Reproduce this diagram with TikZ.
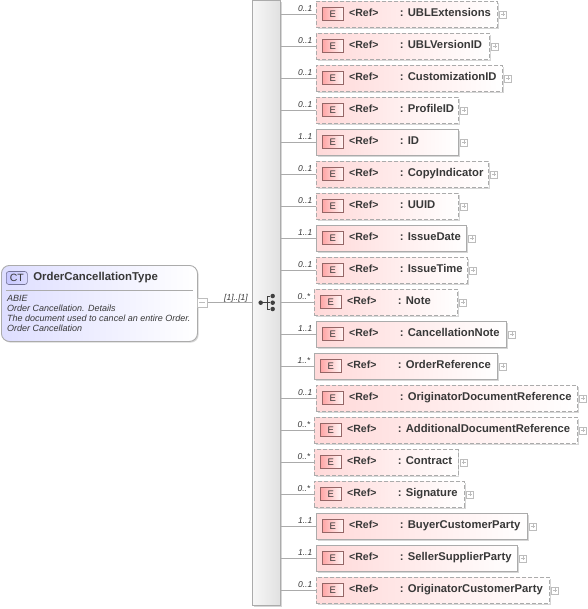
\documentclass[tikz,border=0pt]{standalone}
\usepackage{fontspec}
\setmainfont{Liberation Sans}
\usetikzlibrary{arrows.meta,positioning,calc,shadows}
\definecolor{boxline}{HTML}{ABABAB}
\definecolor{plusline}{HTML}{BDBDBD}
\definecolor{textgray}{HTML}{383838}
\tikzset{
  softshadow/.style={drop shadow={shadow xshift=1.2pt,shadow yshift=-1.2pt,fill=black,opacity=.16}},
  elembox/.style={rectangle,draw=boxline,line width=.8pt,minimum height=26pt,anchor=north west,left color=red!15,right color=white,softshadow},
  optbox/.style={elembox,dash pattern=on 4pt off 2pt},
  eicon/.style={rectangle,draw=red!30!black!60,line width=.6pt,minimum width=21pt,minimum height=13pt,inner sep=0pt,left color=red!35,right color=red!3,font=\fontsize{9.5}{10}\selectfont,text=textgray,right=6pt of #1.west,yshift=.5pt},
  reflabel/.style={inner sep=0pt,text height=8pt,text depth=2pt,font=\fontsize{10.5}{11}\selectfont\bfseries,text=textgray,right=33pt of #1.west,yshift=1pt},
  namelabel/.style={inner sep=0pt,text height=8pt,text depth=2pt,font=\fontsize{11.25}{12}\selectfont\bfseries,text=textgray,right=83.7pt of #1.west,yshift=1pt},
  plusbox/.style={rectangle,draw=plusline,line width=.5pt,fill=white,minimum size=7pt,inner sep=0pt,right=1.5pt of #1.east,
    path picture={\draw[plusline,line width=.5pt] ($(path picture bounding box.west)+(1.5pt,0)$)--($(path picture bounding box.east)+(-1.5pt,0)$) ($(path picture bounding box.north)+(0,-1.5pt)$)--($(path picture bounding box.south)+(0,1.5pt)$);}},
  cardlabel/.style={inner sep=0pt,font=\fontsize{8.5}{9}\selectfont\itshape,text=textgray,above left=2.5pt and 3.5pt of #1.west},
  qline/.style={draw=boxline,line width=.7pt},
  seqdot/.style={circle,fill=black!75,inner sep=0pt,minimum size=4.5pt}
}

\begin{document}
\begin{tikzpicture}[x=1pt,y=-1pt]
  \useasboundingbox (0,0) rectangle (587,609);
  % left hand type
  \node[rectangle,rounded corners=8pt,draw=boxline,line width=.9pt,minimum width=196pt,minimum height=76pt,anchor=north west,left color=blue!13,right color=white,softshadow] (typebox) at (1,265) {};
  \node[rectangle,rounded corners=2.5pt,draw=blue!25!black!55,line width=.6pt,minimum width=21pt,minimum height=13pt,inner sep=0pt,left color=blue!22,right color=blue!14,font=\fontsize{10.5}{11}\selectfont,text=textgray,anchor=west] (cticon) at (6,278) {CT};
  \node[inner sep=0pt,font=\fontsize{11.4}{12}\selectfont\bfseries,text=textgray,right=5.5pt of cticon] (typename) {OrderCancellationType};
  \draw[boxline,line width=.8pt] (6,290)--(193,290);
  \node[inner sep=0pt,anchor=north west,align=left,font=\fontsize{9}{10}\selectfont\itshape,text=textgray] (typedoc) at (7,295) {ABIE\\Order Cancellation. Details\\The document used to cancel an entire Order.\\Order Cancellation};
  \node[rectangle,draw=plusline,line width=.6pt,fill=white,minimum width=10pt,minimum height=9pt,inner sep=0pt,anchor=west,
    path picture={\draw[plusline,line width=.6pt] ($(path picture bounding box.west)+(2pt,0)$)--($(path picture bounding box.east)+(-2pt,0)$);}] (minusbox) at (197,302.5) {};
  % sequence bar
  \node[rectangle,draw=boxline,line width=.8pt,minimum width=28pt,minimum height=605pt,anchor=north west,left color=black!3,right color=black!12,softshadow] (seqbar) at (252,0) {};
  \draw[qline] (minusbox.east)--(minusbox.east -| seqbar.west);
  \node[inner sep=0pt,font=\fontsize{8.5}{9}\selectfont\itshape,text=textgray,anchor=base east] (seqcard) at (248,300) {[1]..[1]};
  \node[seqdot] (s0) at (260.7,302.7) {};
  \node[seqdot] (s1) at (272.7,296) {};
  \node[seqdot] (s2) at (272.7,302.7) {};
  \node[seqdot] (s3) at (272.7,309) {};
  \coordinate (sm) at (267,302.7);
  \draw[black!75,line width=.8pt] (s0)--(s2) (s1)-|(sm) (s3)-|(sm);
  % child elements
  \node[optbox,minimum width=181pt] (b1) at (316,1) {};
  \node[eicon=b1] (e1) {E}; \node[reflabel=b1] (r1) {<Ref>}; \node[namelabel=b1] (n1) {: UBLExtensions};
  \node[plusbox=b1] (p1) {}; \node[cardlabel=b1] (c1) {0..1};
  \draw[qline] (b1.west -| seqbar.east)--(b1.west);
  \node[optbox,minimum width=173pt] (b2) at (316,33) {};
  \node[eicon=b2] (e2) {E}; \node[reflabel=b2] (r2) {<Ref>}; \node[namelabel=b2] (n2) {: UBLVersionID};
  \node[plusbox=b2] (p2) {}; \node[cardlabel=b2] (c2) {0..1};
  \draw[qline] (b2.west -| seqbar.east)--(b2.west);
  \node[optbox,minimum width=186pt] (b3) at (316,65) {};
  \node[eicon=b3] (e3) {E}; \node[reflabel=b3] (r3) {<Ref>}; \node[namelabel=b3] (n3) {: CustomizationID};
  \node[plusbox=b3] (p3) {}; \node[cardlabel=b3] (c3) {0..1};
  \draw[qline] (b3.west -| seqbar.east)--(b3.west);
  \node[optbox,minimum width=142pt] (b4) at (316,97) {};
  \node[eicon=b4] (e4) {E}; \node[reflabel=b4] (r4) {<Ref>}; \node[namelabel=b4] (n4) {: ProfileID};
  \node[plusbox=b4] (p4) {}; \node[cardlabel=b4] (c4) {0..1};
  \draw[qline] (b4.west -| seqbar.east)--(b4.west);
  \node[elembox,minimum width=142pt] (b5) at (316,129) {};
  \node[eicon=b5] (e5) {E}; \node[reflabel=b5] (r5) {<Ref>}; \node[namelabel=b5] (n5) {: ID};
  \node[plusbox=b5] (p5) {}; \node[cardlabel=b5] (c5) {1..1};
  \draw[qline] (b5.west -| seqbar.east)--(b5.west);
  \node[optbox,minimum width=172pt] (b6) at (316,161) {};
  \node[eicon=b6] (e6) {E}; \node[reflabel=b6] (r6) {<Ref>}; \node[namelabel=b6] (n6) {: CopyIndicator};
  \node[plusbox=b6] (p6) {}; \node[cardlabel=b6] (c6) {0..1};
  \draw[qline] (b6.west -| seqbar.east)--(b6.west);
  \node[optbox,minimum width=142pt] (b7) at (316,193) {};
  \node[eicon=b7] (e7) {E}; \node[reflabel=b7] (r7) {<Ref>}; \node[namelabel=b7] (n7) {: UUID};
  \node[plusbox=b7] (p7) {}; \node[cardlabel=b7] (c7) {0..1};
  \draw[qline] (b7.west -| seqbar.east)--(b7.west);
  \node[elembox,minimum width=150pt] (b8) at (316,225) {};
  \node[eicon=b8] (e8) {E}; \node[reflabel=b8] (r8) {<Ref>}; \node[namelabel=b8] (n8) {: IssueDate};
  \node[plusbox=b8] (p8) {}; \node[cardlabel=b8] (c8) {1..1};
  \draw[qline] (b8.west -| seqbar.east)--(b8.west);
  \node[optbox,minimum width=151pt] (b9) at (316,257) {};
  \node[eicon=b9] (e9) {E}; \node[reflabel=b9] (r9) {<Ref>}; \node[namelabel=b9] (n9) {: IssueTime};
  \node[plusbox=b9] (p9) {}; \node[cardlabel=b9] (c9) {0..1};
  \draw[qline] (b9.west -| seqbar.east)--(b9.west);
  \node[optbox,minimum width=143pt] (b10) at (314,289) {};
  \node[eicon=b10] (e10) {E}; \node[reflabel=b10] (r10) {<Ref>}; \node[namelabel=b10] (n10) {: Note};
  \node[plusbox=b10] (p10) {}; \node[cardlabel=b10] (c10) {0..*};
  \draw[qline] (b10.west -| seqbar.east)--(b10.west);
  \node[elembox,minimum width=190pt] (b11) at (316,321) {};
  \node[eicon=b11] (e11) {E}; \node[reflabel=b11] (r11) {<Ref>}; \node[namelabel=b11] (n11) {: CancellationNote};
  \node[plusbox=b11] (p11) {}; \node[cardlabel=b11] (c11) {1..1};
  \draw[qline] (b11.west -| seqbar.east)--(b11.west);
  \node[elembox,minimum width=183pt] (b12) at (314,353) {};
  \node[eicon=b12] (e12) {E}; \node[reflabel=b12] (r12) {<Ref>}; \node[namelabel=b12] (n12) {: OrderReference};
  \node[plusbox=b12] (p12) {}; \node[cardlabel=b12] (c12) {1..*};
  \draw[qline] (b12.west -| seqbar.east)--(b12.west);
  \node[optbox,minimum width=261pt] (b13) at (316,385) {};
  \node[eicon=b13] (e13) {E}; \node[reflabel=b13] (r13) {<Ref>}; \node[namelabel=b13] (n13) {: OriginatorDocumentReference};
  \node[plusbox=b13] (p13) {}; \node[cardlabel=b13] (c13) {0..1};
  \draw[qline] (b13.west -| seqbar.east)--(b13.west);
  \node[optbox,minimum width=263pt] (b14) at (314,417) {};
  \node[eicon=b14] (e14) {E}; \node[reflabel=b14] (r14) {<Ref>}; \node[namelabel=b14] (n14) {: AdditionalDocumentReference};
  \node[plusbox=b14] (p14) {}; \node[cardlabel=b14] (c14) {0..*};
  \draw[qline] (b14.west -| seqbar.east)--(b14.west);
  \node[optbox,minimum width=143.5pt] (b15) at (314,449) {};
  \node[eicon=b15] (e15) {E}; \node[reflabel=b15] (r15) {<Ref>}; \node[namelabel=b15] (n15) {: Contract};
  \node[plusbox=b15] (p15) {}; \node[cardlabel=b15] (c15) {0..*};
  \draw[qline] (b15.west -| seqbar.east)--(b15.west);
  \node[optbox,minimum width=150pt] (b16) at (314,481) {};
  \node[eicon=b16] (e16) {E}; \node[reflabel=b16] (r16) {<Ref>}; \node[namelabel=b16] (n16) {: Signature};
  \node[plusbox=b16] (p16) {}; \node[cardlabel=b16] (c16) {0..*};
  \draw[qline] (b16.west -| seqbar.east)--(b16.west);
  \node[elembox,minimum width=211pt] (b17) at (316,513) {};
  \node[eicon=b17] (e17) {E}; \node[reflabel=b17] (r17) {<Ref>}; \node[namelabel=b17] (n17) {: BuyerCustomerParty};
  \node[plusbox=b17] (p17) {}; \node[cardlabel=b17] (c17) {1..1};
  \draw[qline] (b17.west -| seqbar.east)--(b17.west);
  \node[elembox,minimum width=201pt] (b18) at (316,545) {};
  \node[eicon=b18] (e18) {E}; \node[reflabel=b18] (r18) {<Ref>}; \node[namelabel=b18] (n18) {: SellerSupplierParty};
  \node[plusbox=b18] (p18) {}; \node[cardlabel=b18] (c18) {1..1};
  \draw[qline] (b18.west -| seqbar.east)--(b18.west);
  \node[optbox,minimum width=233pt] (b19) at (316,577) {};
  \node[eicon=b19] (e19) {E}; \node[reflabel=b19] (r19) {<Ref>}; \node[namelabel=b19] (n19) {: OriginatorCustomerParty};
  \node[plusbox=b19] (p19) {}; \node[cardlabel=b19] (c19) {0..1};
  \draw[qline] (b19.west -| seqbar.east)--(b19.west);
\end{tikzpicture}
\end{document}
